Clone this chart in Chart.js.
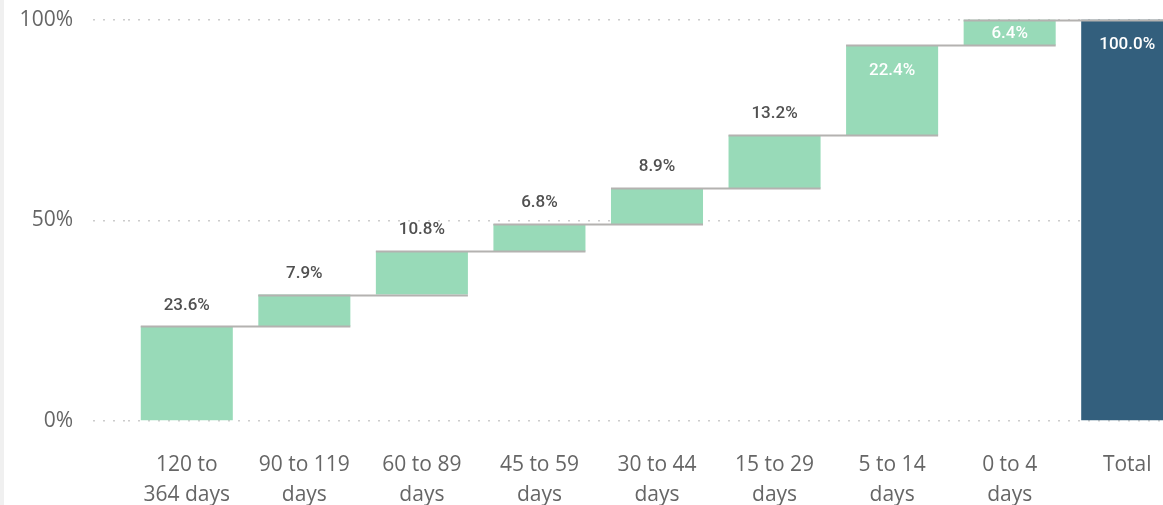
<!DOCTYPE html>
<html>
<head>
<meta charset="utf-8">
<script src="https://cdn.jsdelivr.net/npm/chart.js@4.4.1/dist/chart.umd.min.js"></script>
<style>
  html, body { margin: 0; padding: 0; background: #fff; overflow: hidden; }
  body { width: 1163px; height: 505px; position: relative; }
  #strip { position: absolute; left: 0; top: 0; width: 4px; height: 505px; background: #f0f0f0; z-index: 2; }
  #wrap { position: absolute; left: 0; top: -13px; width: 1186px; height: 518px; }
</style>
</head>
<body>
<div id="strip"></div>
<div id="wrap"><canvas id="chart"></canvas></div>
<script>
// age buckets, shown on two lines
const categories = [
  ["120 to", "364 days"],
  ["90 to 119", "days"],
  ["60 to 89", "days"],
  ["45 to 59", "days"],
  ["30 to 44", "days"],
  ["15 to 29", "days"],
  ["5 to 14", "days"],
  ["0 to 4", "days"],
  ["Total"]
];
// share of each bucket, in percent
const shares = [23.6, 7.9, 10.8, 6.8, 8.9, 13.2, 22.4, 6.4];
const total = 100.0;
const yTicks = [0, 50, 100];

const green = "#98dab8";
const navy = "#335f7d";

// build the floating [start, end] ranges for the waterfall
const ranges = [];
let running = 0;
shares.forEach((v) => {
  ranges.push([running, running + v]);
  running += v;
});
ranges.push([0, total]);
const labelValues = shares.concat([total]);

const connectors = {
  id: "connectors",
  afterDatasetsDraw(chart) {
    const ctx = chart.ctx;
    const bars = chart.getDatasetMeta(0).data;
    ctx.save();
    ctx.strokeStyle = "#b4b2b0";
    ctx.lineWidth = 2;
    for (let i = 0; i < bars.length - 1; i++) {
      const a = bars[i], b = bars[i + 1];
      const y = Math.round(a.y) + 0.5;
      ctx.beginPath();
      ctx.moveTo(a.x - a.width / 2, y);
      ctx.lineTo(b.x + b.width / 2, y);
      ctx.stroke();
    }
    ctx.restore();
  }
};

const barLabels = {
  id: "barLabels",
  afterDatasetsDraw(chart) {
    const ctx = chart.ctx;
    const bars = chart.getDatasetMeta(0).data;
    ctx.save();
    ctx.font = "500 17px Roboto, 'DejaVu Sans', sans-serif";
    ctx.textAlign = "center";
    ctx.textBaseline = "middle";
    bars.forEach((bar, i) => {
      const text = labelValues[i].toFixed(1) + "%";
      const top = Math.min(bar.y, bar.base);
      const bottom = Math.max(bar.y, bar.base);
      if (ranges[i][1] >= 90) {
        ctx.fillStyle = "#ffffff";
        const y = Math.min(top + 25, (top + bottom) / 2 + 1);
        ctx.fillText(text, bar.x, y);
      } else {
        ctx.fillStyle = "#505050";
        ctx.fillText(text, bar.x, top - 21);
      }
    });
    ctx.restore();
  }
};

new Chart(document.getElementById("chart"), {
  type: "bar",
  data: {
    labels: categories,
    datasets: [{
      data: ranges,
      backgroundColor: ranges.map((r, i) => i === ranges.length - 1 ? navy : green),
      borderWidth: 0,
      borderSkipped: false,
      categoryPercentage: 1,
      barPercentage: 0.783
    }]
  },
  options: {
    responsive: true,
    maintainAspectRatio: false,
    animation: false,
    layout: { padding: { top: 7, left: 0, right: 0, bottom: 0 } },
    plugins: {
      legend: { display: false },
      tooltip: { enabled: false }
    },
    scales: {
      x: {
        grid: { display: false },
        border: { display: false },
        ticks: {
          color: "#666666",
          padding: 21,
          maxRotation: 0,
          autoSkip: false,
          font: { family: "'Segoe UI', 'Open Sans', sans-serif", size: 21, lineHeight: 1.43 }
        },
        afterFit(scale) { scale.height = 84; }
      },
      y: {
        min: 0,
        max: 100,
        afterBuildTicks(scale) { scale.ticks = yTicks.map((v) => ({ value: v })); },
        grid: {
          color: "#cccccc",
          lineWidth: 1.5,
          drawTicks: true,
          tickLength: 35,
          tickColor: "#cccccc",
          tickBorderDash: [2, 8]
        },
        border: { display: false, dash: [2, 8] },
        ticks: {
          color: "#666666",
          padding: 20,
          font: { family: "'Segoe UI', 'Open Sans', sans-serif", size: 21 },
          callback: (v) => v + "%"
        },
        afterFit(scale) { scale.width = 128; }
      }
    }
  },
  plugins: [connectors, barLabels]
});
</script>
</body>
</html>
